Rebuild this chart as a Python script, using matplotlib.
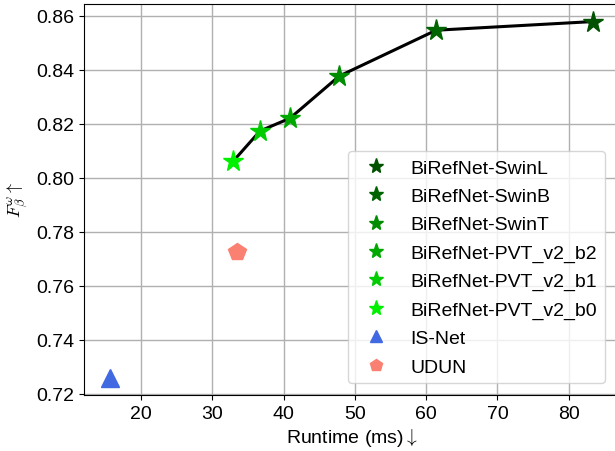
import matplotlib
matplotlib.use("Agg")
import matplotlib.pyplot as plt

plt.rcParams['font.family'] = ['Liberation Sans', 'DejaVu Sans']
plt.rcParams['mathtext.fontset'] = 'cm'

# data
models = ['BiRefNet-SwinL', 'BiRefNet-SwinB', 'BiRefNet-SwinT',
          'BiRefNet-PVT_v2_b2', 'BiRefNet-PVT_v2_b1', 'BiRefNet-PVT_v2_b0']
runtime = [83.35, 61.4, 47.8, 40.9, 36.7, 32.9]
score = [0.8578, 0.8546, 0.8376, 0.8220, 0.8173, 0.8060]
colors = ['#005200', '#006400', '#008c00', '#00a800', '#00cc00', '#00f000']

others = ['IS-Net', 'UDUN']
other_runtime = [15.6, 33.5]
other_score = [0.7258, 0.7724]
other_colors = ['royalblue', 'salmon']
other_markers = ['^', 'p']

fig = plt.figure(figsize=(6.15, 4.52), dpi=100)
ax = fig.add_axes([84 / 615, (452 - 396) / 452, (620 - 84) / 615, (396 - 4.5) / 452])

ax.plot(runtime, score, color='black', lw=2.2, zorder=2)
for x, y, c, name in zip(runtime, score, colors, models):
    ax.plot(x, y, marker='*', ms=15.5, color=c, ls='none', label=name, zorder=3)
for x, y, c, m, name in zip(other_runtime, other_score, other_colors, other_markers, others):
    ax.plot(x, y, marker=m, ms=13, color=c, ls='none', label=name, zorder=3)

ax.set_xlim(12.0, 87.2)
ax.set_ylim(0.7195, 0.8645)
ax.set_xticks([20, 30, 40, 50, 60, 70, 80])
ax.set_yticks([0.72, 0.74, 0.76, 0.78, 0.80, 0.82, 0.84, 0.86])
ax.tick_params(labelsize=14)
ax.grid(True, color='#b0b0b0', lw=1)
ax.set_axisbelow(True)
ax.set_xlabel('Runtime (ms)$\\downarrow$', fontsize=14, labelpad=3)
ax.set_ylabel(r'$F^{\omega}_{\beta}\uparrow$', fontsize=13)

ax.legend(loc='lower right', fontsize=14, markerscale=0.7, labelspacing=0.55,
          bbox_to_anchor=(0.99, 0.005))

fig.savefig('out.png', dpi=100)
